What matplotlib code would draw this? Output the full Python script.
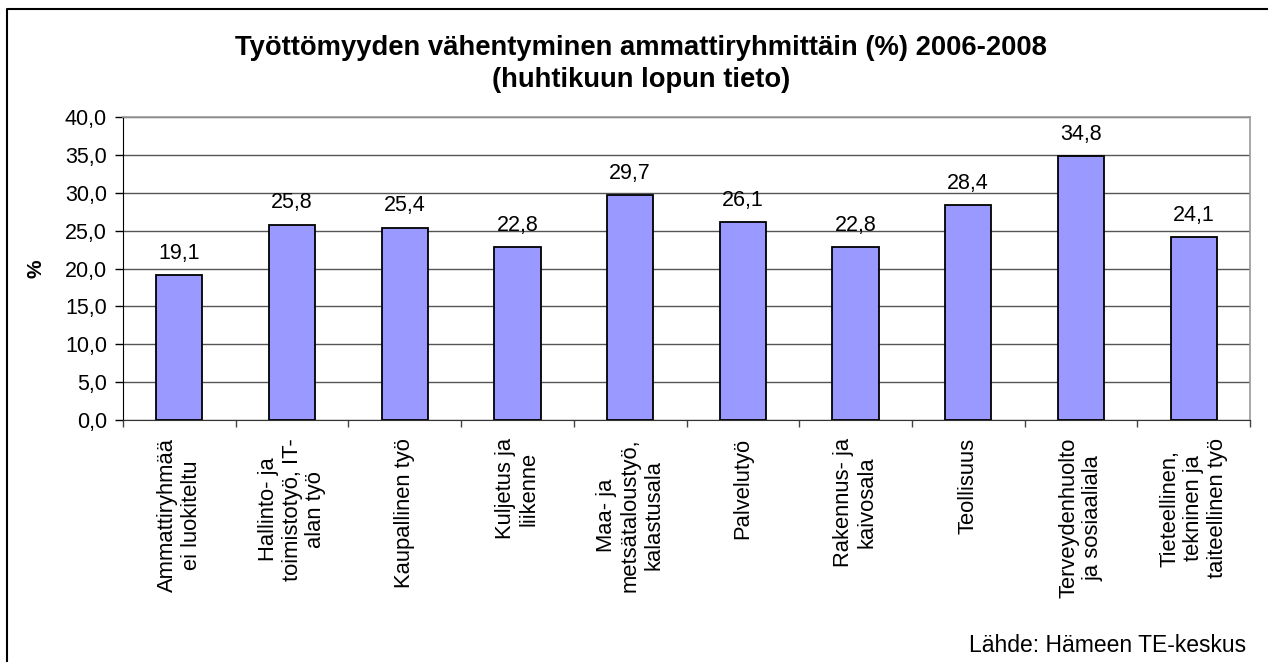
import matplotlib
matplotlib.use("Agg")
import matplotlib.pyplot as plt
from matplotlib.lines import Line2D
import numpy as np

plt.rcParams['font.family'] = ['Liberation Sans', 'DejaVu Sans']

# Data
categories = [
    "Ammattiryhmää\nei luokiteltu",
    "Hallinto- ja\ntoimistotyö, IT-\nalan työ",
    "Kaupallinen työ",
    "Kuljetus ja\nliikenne",
    "Maa- ja\nmetsätaloustyö,\nkalastusala",
    "Palvelutyö",
    "Rakennus- ja\nkaivosala",
    "Teollisuus",
    "Terveydenhuolto\nja sosiaaliala",
    "Tieteellinen,\ntekninen ja\ntaiteellinen työ",
]
values = [19.1, 25.8, 25.4, 22.8, 29.7, 26.1, 22.8, 28.4, 34.8, 24.1]
y_ticks = [0, 5, 10, 15, 20, 25, 30, 35, 40]

title = "Työttömyyden vähentyminen ammattiryhmittäin (%) 2006-2008\n(huhtikuun lopun tieto)"
source = "Lähde: Hämeen TE-keskus"

W, H = 1268, 662
fig = plt.figure(figsize=(W / 100, H / 100), dpi=100)
ax = fig.add_axes([123 / W, 1 - 420 / H, (1250 - 123) / W, (420 - 117) / H])

x = np.arange(len(categories))
ax.bar(x, values, width=0.41, color="#9999FF", edgecolor="black", linewidth=1.3, zorder=3)

for xi, v in zip(x, values):
    ax.annotate(f"{v:.1f}".replace(".", ","), (xi, v), xytext=(0, 8), textcoords="offset points",
                ha="center", va="bottom", fontsize=15.5)

ax.set_xlim(-0.5, len(categories) - 0.5)
ax.set_ylim(0, 40)
ax.set_yticks(y_ticks)
ax.set_yticklabels([f"{t:.1f}".replace(".", ",") for t in y_ticks], fontsize=15.5)
ax.tick_params(axis="y", direction="out", length=5.5, width=1, pad=6)
ax.yaxis.grid(True, color="#555555", linewidth=1, zorder=0)
ax.set_axisbelow(True)

# category labels centred, tick marks between categories
ax.set_xticks(x)
ax.set_xticklabels(categories, rotation=90, fontsize=15.8, va="top", ha="center",
                   multialignment="center", linespacing=1.15)
ax.tick_params(axis="x", which="major", length=0, pad=13)
ax.set_xticks(np.arange(-0.5, len(categories)), minor=True)
ax.tick_params(axis="x", which="minor", direction="out", length=5, width=1, color="#444444")

for side in ["top", "right"]:
    ax.spines[side].set_color("#999999")
    ax.spines[side].set_linewidth(1.2)
ax.spines["left"].set_color("black")
ax.spines["bottom"].set_color("#333333")

ax.set_ylabel("%", fontsize=15, fontweight="bold", labelpad=14)

fig.text(641 / W, 1 - 64 / H, title, ha="center", va="center", fontsize=19.7,
         fontweight="bold", linespacing=1.3)
fig.text(1246 / W, 1 - 645 / H, source, ha="right", va="center", fontsize=16.5)

# outer chart frame (cropped at right and bottom)
fig.add_artist(Line2D([6.5 / W, 6.5 / W, 1.0], [0.0, 1 - 9 / H, 1 - 9 / H],
                      transform=fig.transFigure, color="black", linewidth=1.5))

fig.savefig("out.png", dpi=100)
